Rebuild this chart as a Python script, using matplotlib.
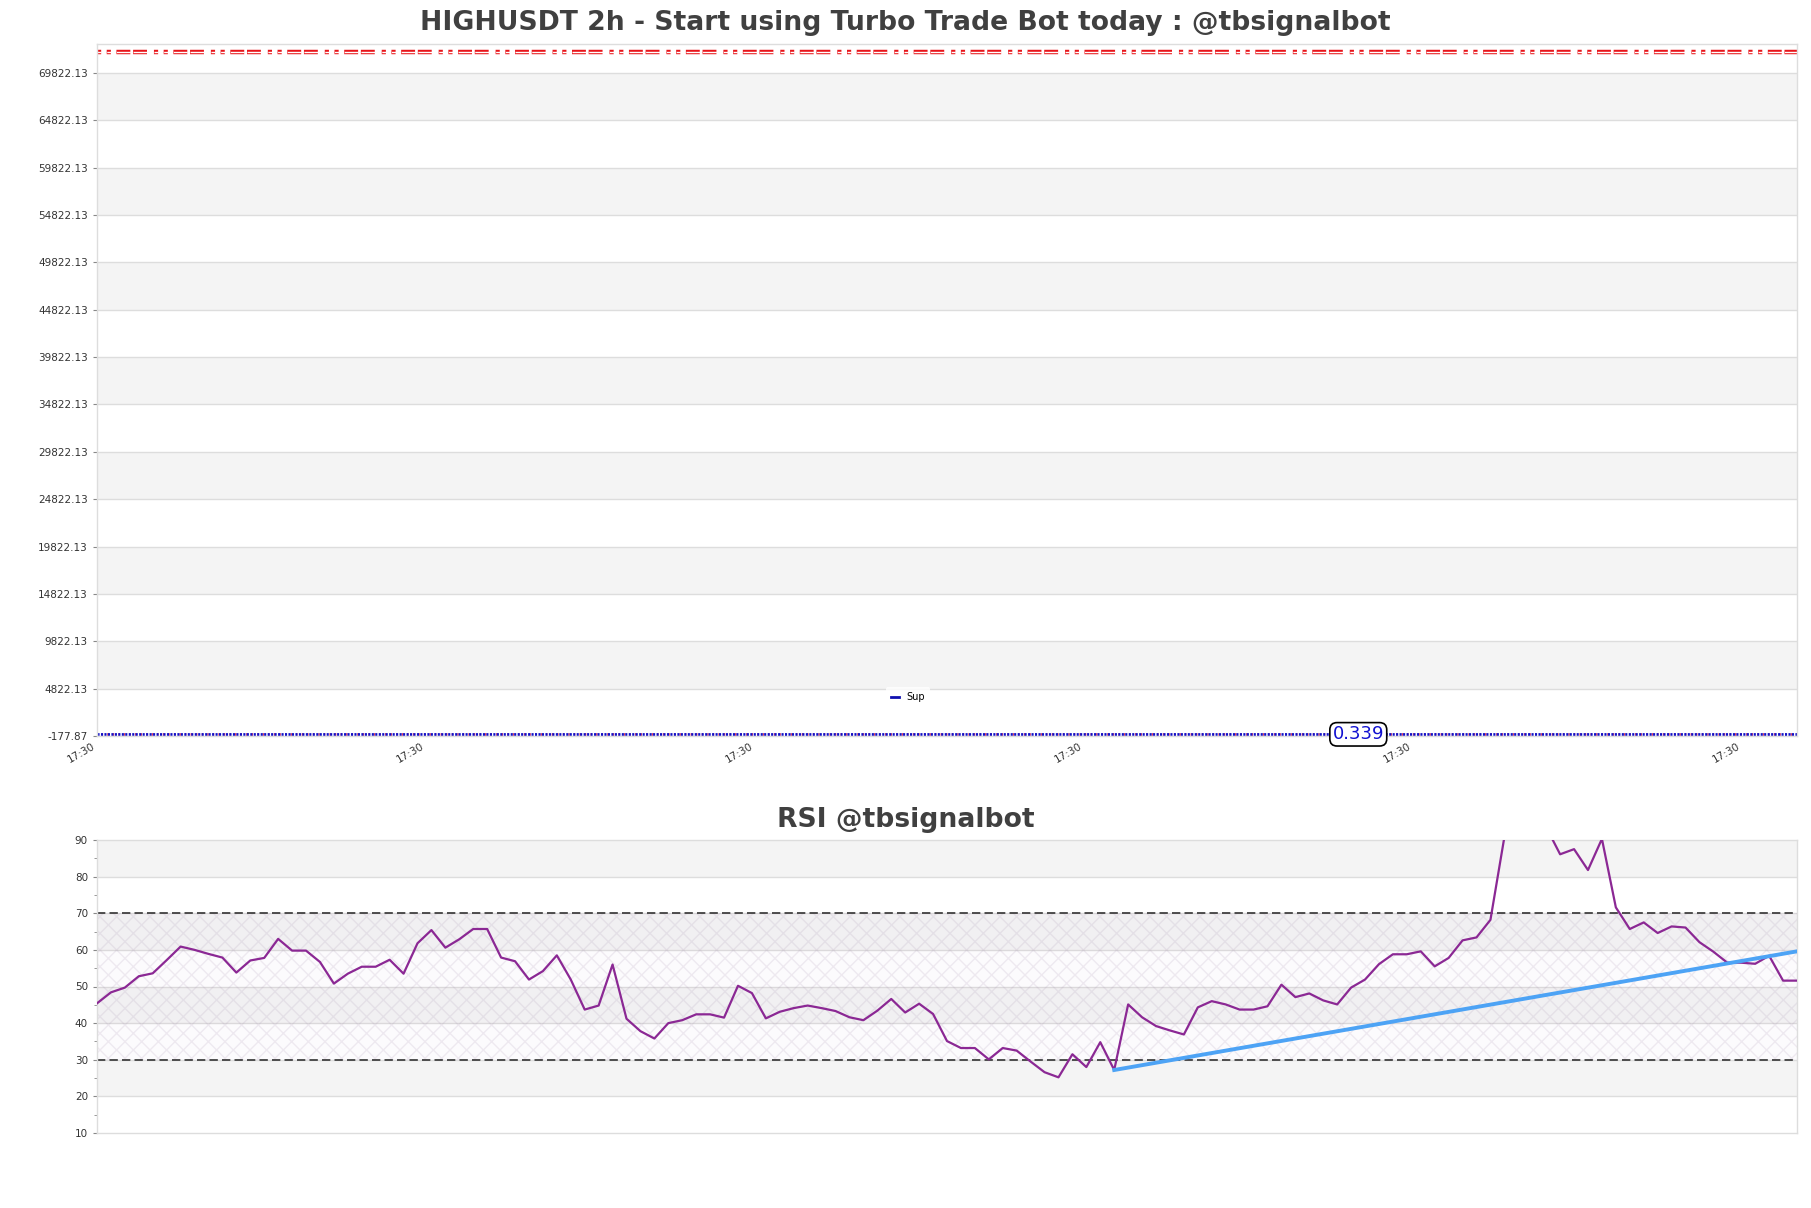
import numpy as np
import matplotlib
matplotlib.use("Agg")
import matplotlib.pyplot as plt
from matplotlib.lines import Line2D
from matplotlib.ticker import FixedLocator, MultipleLocator

plt.rcParams["lines.scale_dashes"] = False

# values
title = "HIGHUSDT 2h - Start using Turbo Trade Bot today : @tbsignalbot"
rsi_title = "RSI @tbsignalbot"

n_candles = 125
time_labels = ["17:30", "17:30", "17:30", "17:30", "17:30", "17:30"]
price_ticks = [-177.87, 4822.13, 9822.13, 14822.13, 19822.13, 24822.13, 29822.13,
               34822.13, 39822.13, 44822.13, 49822.13, 54822.13, 59822.13,
               64822.13, 69822.13]
price_top = 72865
resistance = 71990
support = 0.339
last_price_idx = 92

rsi = [45.4, 48.4, 49.7, 52.8, 53.6, 57.2, 60.9, 60.0, 58.9, 57.9, 53.8, 57.1,
       57.8, 63.0, 59.8, 59.8, 56.7, 50.8, 53.5, 55.4, 55.4, 57.3, 53.5, 61.8,
       65.4, 60.6, 62.9, 65.7, 65.7, 57.9, 56.9, 51.9,
       54.2, 58.5, 51.9, 43.7, 44.8, 56.0, 41.2, 37.8, 35.8, 40.0, 40.8, 42.4,
       42.4, 41.5, 50.2, 48.2, 41.3, 43.1, 44.1, 44.8, 44.1, 43.3, 41.6, 40.8,
       43.4, 46.6, 42.9, 45.3, 42.5, 35.1,
       33.2, 33.2, 30.1, 33.2, 32.5, 29.5, 26.6, 25.2, 31.5, 28.0, 34.8, 27.2,
       45.1, 41.6, 39.2, 38.0, 36.9, 44.3, 46.0, 45.1, 43.7, 43.7, 44.6, 50.5,
       47.1, 48.1, 46.2, 45.1, 49.7, 51.9, 56.1,
       58.8, 58.8, 59.6, 55.5, 57.8, 62.6, 63.4, 68.2, 90.8, 94.0, 95.0, 93.5,
       86.1, 87.5, 81.8, 90.3, 71.6, 65.7, 67.5, 64.6, 66.4, 66.1, 62.1, 59.5,
       56.5, 56.5, 56.2, 58.4, 51.6, 51.6]
rsi_ticks = [10, 20, 30, 40, 50, 60, 70, 80, 90]
trend_x = [73, 122]
trend_y = [27.2, 59.6]

W, H = 1811, 1208
fig = plt.figure(figsize=(W / 100, H / 100), dpi=100)

grid_c = "#dddddd"
band_c = "#f4f4f4"
txt_c = "#333333"


def style_axis(ax):
    for s in ax.spines.values():
        s.set_color(grid_c)
        s.set_linewidth(1)
    ax.tick_params(axis="y", labelsize=7.5, colors="#888888", labelcolor=txt_c, length=3)
    ax.set_axisbelow(True)


# ---- price panel
ax = fig.add_axes([97 / W, 1 - 736 / H, 1700 / W, 692 / H])
ax.set_xlim(0, n_candles - 1)
ax.set_ylim(price_ticks[0], price_top)
bounds = price_ticks + [price_top]
for i in range(len(bounds) - 1):
    if i % 2 == 1:
        ax.axhspan(bounds[i], bounds[i + 1], color=band_c, lw=0, zorder=0)
for t in price_ticks[1:]:
    ax.axhline(t, color=grid_c, lw=1, zorder=0.5)
ax.set_yticks(price_ticks)
ax.set_yticklabels([f"{t:.2f}" for t in price_ticks])
ax.set_xticks(range(0, n_candles, 24))
ax.set_xticklabels(time_labels, rotation=30, ha="right", fontsize=7.5, color=txt_c)
ax.tick_params(axis="x", length=0, pad=4)
style_axis(ax)

# resistance drawn as a hollow red dash pattern
res_dash = (3, 4, 3, 4, 10, 2, 10, 5)
ax.axhline(resistance, color="#e8141a", lw=3.2, dashes=res_dash)
ax.axhline(resistance, color="white", lw=1.0, dashes=res_dash)

# support / price lines at the very bottom
ax.axhline(support, color="#e04060", lw=2, ls=(1, (1, 3)))
ax.axhline(support, color="#1010c8", lw=2, ls=(0, (1.5, 1)))
ax.text(last_price_idx, support, f"{support:.3f}", color="#1010d0", fontsize=13,
        ha="center", va="center", zorder=5,
        bbox=dict(boxstyle="round,pad=0.15,rounding_size=0.4", fc="white", ec="black", lw=1.2))
sup_handle = Line2D([], [], color="#1010b0", lw=2)
leg = ax.legend([sup_handle], ["Sup"], loc="lower center", bbox_to_anchor=(0.477, 0.035),
                fontsize=7, frameon=True, handlelength=0.8, borderpad=0.5)
leg.get_frame().set_edgecolor("none")
leg.get_frame().set_facecolor("white")

fig.text(0.5, 1 - 23 / H, title, ha="center", va="center", fontsize=19.2,
         fontweight="bold", color="#404040")

# ---- RSI panel
ax2 = fig.add_axes([97 / W, 1 - 1133 / H, 1700 / W, 293 / H])
x = np.arange(len(rsi))
ax2.set_xlim(0, len(rsi) - 1)
ax2.set_ylim(rsi_ticks[0], rsi_ticks[-1])
for i in range(len(rsi_ticks) - 1):
    if i % 2 == 1:
        ax2.axhspan(rsi_ticks[i], rsi_ticks[i + 1], color=band_c, lw=0, zorder=0)
for t in rsi_ticks[1:-1]:
    ax2.axhline(t, color=grid_c, lw=1, zorder=0.5)
ax2.axhspan(30, 70, facecolor=(0.55, 0.2, 0.6, 0.02), edgecolor=(0.6, 0.5, 0.65, 0.14),
            hatch="xx", lw=0, zorder=0.6)
ax2.axhline(30, color="#333333", lw=1.2, dashes=(6, 3), zorder=1)
ax2.axhline(70, color="#333333", lw=1.2, dashes=(6, 3), zorder=1)
ax2.plot(x, rsi, color="#8b2894", lw=1.6, zorder=3)
ax2.plot(trend_x, trend_y, color="#4da3f5", lw=2.8, zorder=4)
ax2.yaxis.set_major_locator(FixedLocator(rsi_ticks))
ax2.yaxis.set_minor_locator(MultipleLocator(5))
ax2.tick_params(axis="y", which="minor", length=2, color="#888888")
ax2.set_xticks([])
style_axis(ax2)

fig.text(0.5, 1 - 820 / H, rsi_title, ha="center", va="center", fontsize=19.2,
         fontweight="bold", color="#404040")

fig.savefig("out.png", dpi=100)
